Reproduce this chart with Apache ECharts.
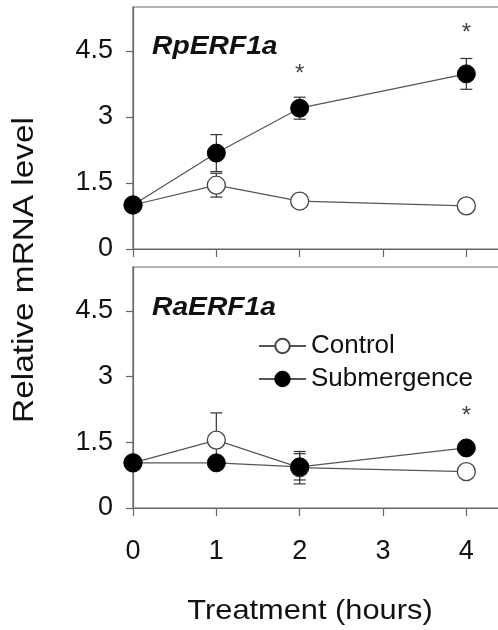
<!DOCTYPE html>
<html>
<head>
<meta charset="utf-8">
<script src="https://cdn.jsdelivr.net/npm/echarts@6/dist/echarts.min.js"></script>
<style>
  html, body { margin: 0; padding: 0; background: #fff; }
  #chart { width: 498px; height: 630px; }
</style>
</head>
<body>
<div id="chart"></div>
<script>
// Time points (hours) and tick labels
const hours = [0, 1, 2, 4];
const xTicks = [0, 1, 2, 3, 4];
const yTicks = [0, 1.5, 3, 4.5];

// RpERF1a (upper panel): means and standard errors
const rpControl = [1.0, 1.45, 1.09, 0.98];
const rpControlErr = [0, 0.27, 0, 0];
const rpSubmergence = [1.0, 2.18, 3.2, 3.98];
const rpSubmergenceErr = [0, 0.42, 0.25, 0.35];
const rpStars = [[2, 3.98], [4, 4.9]];

// RaERF1a (lower panel): means and standard errors
const raControl = [1.03, 1.55, 0.92, 0.83];
const raControlErr = [0, 0.62, 0.37, 0];
const raSubmergence = [1.03, 1.03, 0.94, 1.37];
const raSubmergenceErr = [0, 0, 0.3, 0];
const raStars = [[4, 2.1]];

const FONT = '"Liberation Sans", Arial, sans-serif';
const LINE = '#555';
const AXIS = '#666';

function pairs(xs, ys) { return xs.map((x, i) => [x, ys[i]]); }
function errData(xs, ys, es) {
  return xs.map((x, i) => [x, ys[i] - es[i], ys[i] + es[i]]).filter((d, i) => es[i] > 0);
}

function errorSeries(idx, data) {
  return {
    type: 'custom',
    xAxisIndex: idx, yAxisIndex: idx,
    z: 1,
    silent: true,
    data: data,
    renderItem: function (params, api) {
      const x = api.value(0);
      const lo = api.coord([x, api.value(1)]);
      const hi = api.coord([x, api.value(2)]);
      const w = 6;
      const s = { stroke: '#333', lineWidth: 1.2 };
      return {
        type: 'group',
        children: [
          { type: 'line', shape: { x1: lo[0], y1: lo[1], x2: hi[0], y2: hi[1] }, style: s },
          { type: 'line', shape: { x1: lo[0] - w, y1: lo[1], x2: lo[0] + w, y2: lo[1] }, style: s },
          { type: 'line', shape: { x1: hi[0] - w, y1: hi[1], x2: hi[0] + w, y2: hi[1] }, style: s }
        ]
      };
    }
  };
}

function lineSeries(idx, name, data, filled) {
  return {
    type: 'line', name: name,
    xAxisIndex: idx, yAxisIndex: idx,
    z: 3,
    data: data,
    symbol: 'circle', symbolSize: 18,
    lineStyle: { color: LINE, width: 1.2 },
    itemStyle: filled
      ? { color: '#000', borderColor: '#000', borderWidth: 1 }
      : { color: '#fff', borderColor: '#444', borderWidth: 1.3 },
    emphasis: { disabled: true },
    animation: false
  };
}

function starSeries(idx, data) {
  return {
    type: 'scatter',
    xAxisIndex: idx, yAxisIndex: idx,
    symbolSize: 0,
    data: data,
    z: 4,
    label: {
      show: true, position: 'inside', formatter: '*',
      color: '#111', fontSize: 24, fontFamily: FONT
    },
    silent: true
  };
}

function xAxis(idx, showLabels) {
  return {
    type: 'value', gridIndex: idx, min: 0, max: 4.44,
    axisLine: { show: true, onZero: false, lineStyle: { color: AXIS, width: 1.2 } },
    axisTick: { show: true, length: 8, customValues: xTicks, lineStyle: { color: AXIS, width: 1.2 } },
    axisLabel: showLabels
      ? { show: true, customValues: xTicks, margin: 30, fontSize: 27, color: '#111', fontFamily: FONT }
      : { show: false },
    splitLine: { show: false }
  };
}

function yAxis(idx) {
  return {
    type: 'value', gridIndex: idx, min: 0, max: 5.5,
    axisLine: { show: true, lineStyle: { color: AXIS, width: 1.2 } },
    axisTick: { show: true, length: 7, customValues: yTicks, lineStyle: { color: AXIS, width: 1.2 } },
    axisLabel: {
      show: true, customValues: yTicks, margin: 20, fontSize: 27, color: '#111', fontFamily: FONT,
      formatter: v => String(v)
    },
    splitLine: { show: false }
  };
}

const chart = echarts.init(document.getElementById('chart'), null, { renderer: 'canvas' });

chart.setOption({
  backgroundColor: '#fff',
  animation: false,
  grid: [
    { left: 133, top: 7, width: 370, height: 242, outerBoundsMode: 'none', containLabel: false,
      show: true, borderColor: AXIS, borderWidth: 1.2, backgroundColor: 'transparent' },
    { left: 133, top: 267, width: 370, height: 241, outerBoundsMode: 'none', containLabel: false,
      show: true, borderColor: AXIS, borderWidth: 1.2, backgroundColor: 'transparent' }
  ],
  xAxis: [xAxis(0, false), xAxis(1, true)],
  yAxis: [yAxis(0), yAxis(1)],
  legend: {
    data: ['Control', 'Submergence'],
    orient: 'vertical',
    left: 253, top: 328,
    itemWidth: 47, itemHeight: 18, itemGap: 7,
    textStyle: { fontSize: 26, color: '#111', fontFamily: FONT, padding: [0, 0, 0, 0] },
    selectedMode: false
  },
  series: [
    errorSeries(0, errData(hours, rpControl, rpControlErr)),
    errorSeries(0, errData(hours, rpSubmergence, rpSubmergenceErr)),
    lineSeries(0, 'Control', pairs(hours, rpControl), false),
    lineSeries(0, 'Submergence', pairs(hours, rpSubmergence), true),
    starSeries(0, rpStars),
    errorSeries(1, errData(hours, raControl, raControlErr)),
    errorSeries(1, errData(hours, raSubmergence, raSubmergenceErr)),
    lineSeries(1, 'Control', pairs(hours, raControl), false),
    lineSeries(1, 'Submergence', pairs(hours, raSubmergence), true),
    starSeries(1, raStars)
  ],
  graphic: [
    { type: 'text', x: 152, y: 47, scaleX: 1.13,
      style: { text: 'RpERF1a', font: 'italic bold 25px ' + FONT, fill: '#111', verticalAlign: 'middle' } },
    { type: 'text', x: 152, y: 308, scaleX: 1.13,
      style: { text: 'RaERF1a', font: 'italic bold 25px ' + FONT, fill: '#111', verticalAlign: 'middle' } },
    { type: 'text', x: 25, y: 270, rotation: Math.PI / 2, scaleX: 1.15,
      style: { text: 'Relative mRNA level', font: '29px ' + FONT, fill: '#111', align: 'center', verticalAlign: 'middle' } },
    { type: 'text', x: 310, y: 611, scaleX: 1.1,
      style: { text: 'Treatment (hours)', font: '28px ' + FONT, fill: '#111', align: 'center', verticalAlign: 'middle' } }
  ]
});
</script>
</body>
</html>
